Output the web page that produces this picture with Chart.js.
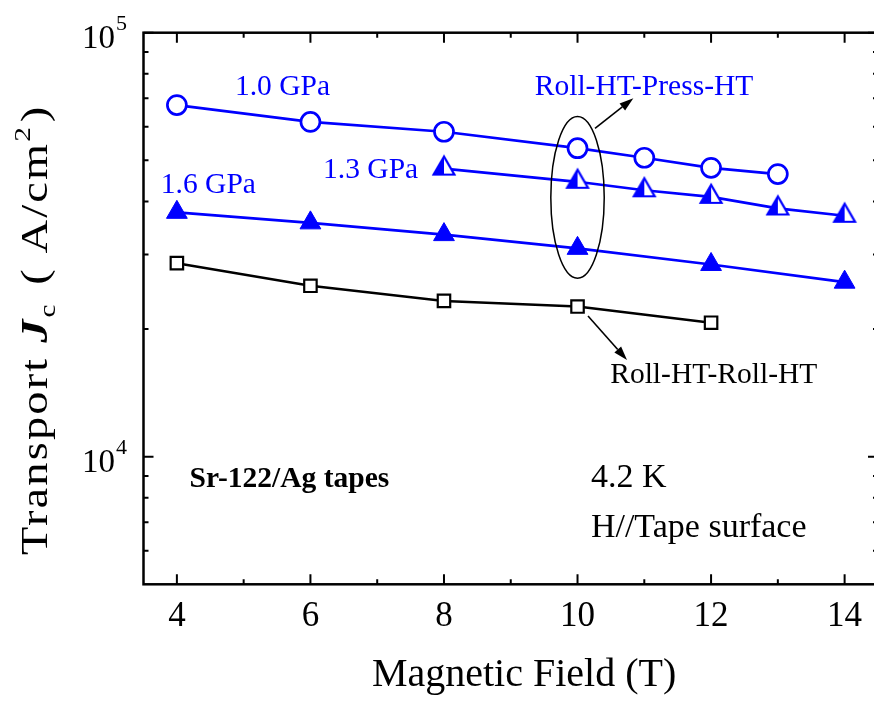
<!DOCTYPE html>
<html lang="en">
<head>
<meta charset="UTF-8">
<title>Transport Jc vs Magnetic Field</title>
<script src="https://cdn.jsdelivr.net/npm/chart.js"></script>
<style>
  html, body { margin: 0; padding: 0; background: #fff; overflow: hidden; }
  .wrap { width: 874px; height: 702px; overflow: hidden; }
  canvas { display: block; }
</style>
</head>
<body>
<!-- canvas is a little wider than the window: the right frame line falls just outside the picture -->
<div class="wrap"><canvas id="jcChart" width="882" height="702"></canvas></div>
<script>
// magnetic field (T) and transport Jc (A/cm2) for each tape
const field10 = [4, 6, 8, 10, 11, 12, 13];
const jc10 = [67500, 61600, 58400, 53400, 50700, 48000, 46400];
const field13 = [8, 10, 11, 12, 13, 14];
const jc13 = [47800, 44500, 42500, 41000, 38500, 37000];
const field16 = [4, 6, 8, 10, 12, 14];
const jc16 = [37700, 35600, 33400, 31000, 28400, 25800];
const fieldRoll = [4, 6, 8, 10, 12];
const jcRoll = [28600, 25300, 23300, 22600, 20700];

const xMajor = [4, 6, 8, 10, 12, 14];
const xMinor = [5, 7, 9, 11, 13];
const yMajor = [10000, 100000];
const yMinor = [6000, 7000, 8000, 9000, 20000, 30000, 40000, 50000, 60000, 70000, 80000, 90000];

const SERIF = '"Liberation Serif", "Times New Roman", serif';
const BLUE = '#0000ff';

function pts(xs, ys) {
    return xs.map((x, i) => ({ x: x, y: ys[i] }));
}

// half filled triangle marker (left half blue)
function halfTriangle() {
    const c = document.createElement('canvas');
    c.width = 32; c.height = 32;
    const g = c.getContext('2d');
    const cx = 16, cy = 16, r = 12, h = r * Math.sqrt(3) / 2;
    g.beginPath();
    g.moveTo(cx, cy - r); g.lineTo(cx - h, cy + r / 2); g.lineTo(cx + h, cy + r / 2);
    g.closePath();
    g.fillStyle = '#fff'; g.fill();
    g.beginPath();
    g.moveTo(cx, cy - r); g.lineTo(cx - h, cy + r / 2); g.lineTo(cx, cy + r / 2);
    g.closePath();
    g.fillStyle = BLUE; g.fill();
    g.beginPath();
    g.moveTo(cx, cy - r); g.lineTo(cx - h, cy + r / 2); g.lineTo(cx + h, cy + r / 2);
    g.closePath();
    g.lineWidth = 2.2; g.strokeStyle = BLUE; g.stroke();
    return c;
}

function arrow(ctx, x1, y1, x2, y2) {
    const a = Math.atan2(y2 - y1, x2 - x1);
    const len = 14, half = 4.5;
    const bx = x2 - len * Math.cos(a), by = y2 - len * Math.sin(a);
    ctx.beginPath();
    ctx.moveTo(x1, y1); ctx.lineTo(bx, by);
    ctx.stroke();
    ctx.beginPath();
    ctx.moveTo(x2, y2);
    ctx.lineTo(bx + half * Math.sin(a), by - half * Math.cos(a));
    ctx.lineTo(bx - half * Math.sin(a), by + half * Math.cos(a));
    ctx.closePath();
    ctx.fill();
}

function runs(ctx, parts) {
    let x = 0;
    parts.forEach(p => {
        ctx.font = p.font;
        ctx.fillText(p.text, x, p.dy || 0);
        x += ctx.measureText(p.text).width + (p.gap || 0);
    });
}

const framePlugin = {
    id: 'frame',
    afterDatasetsDraw(chart) {
        const ctx = chart.ctx;
        const a = chart.chartArea;
        const xs = chart.scales.x, ys = chart.scales.y;
        const px = v => xs.getPixelForValue(v);
        const py = v => ys.getPixelForValue(v);
        ctx.save();
        ctx.strokeStyle = '#000';
        ctx.fillStyle = '#000';

        // frame + inward ticks on all four sides
        ctx.lineWidth = 2.5;
        ctx.strokeRect(a.left, a.top, a.right - a.left, a.bottom - a.top);
        ctx.lineWidth = 2;
        ctx.beginPath();
        xMajor.forEach(v => {
            ctx.moveTo(px(v), a.bottom); ctx.lineTo(px(v), a.bottom - 10);
            ctx.moveTo(px(v), a.top); ctx.lineTo(px(v), a.top + 10);
        });
        xMinor.forEach(v => {
            ctx.moveTo(px(v), a.bottom); ctx.lineTo(px(v), a.bottom - 5);
            ctx.moveTo(px(v), a.top); ctx.lineTo(px(v), a.top + 5);
        });
        yMajor.forEach(v => {
            ctx.moveTo(a.left, py(v)); ctx.lineTo(a.left + 10, py(v));
            ctx.moveTo(a.right, py(v)); ctx.lineTo(a.right - 10, py(v));
        });
        yMinor.forEach(v => {
            ctx.moveTo(a.left, py(v)); ctx.lineTo(a.left + 5, py(v));
            ctx.moveTo(a.right, py(v)); ctx.lineTo(a.right - 5, py(v));
        });
        ctx.stroke();

        // tick labels
        ctx.textBaseline = 'alphabetic';
        ctx.textAlign = 'center';
        ctx.font = '35px ' + SERIF;
        xMajor.forEach(v => ctx.fillText(String(v), px(v), a.bottom + 42));
        ctx.textAlign = 'left';
        yMajor.forEach(v => {
            const y = py(v);
            ctx.font = '33px ' + SERIF;
            ctx.fillText('10', a.left - 61.5, y + 15);
            const w = ctx.measureText('10').width;
            ctx.font = '22px ' + SERIF;
            ctx.fillText(String(Math.round(Math.log10(v))), a.left - 61.5 + w + 1, y - 3);
        });

        // axis titles
        ctx.textAlign = 'center';
        ctx.font = '40px ' + SERIF;
        ctx.fillText('Magnetic Field (T)', px(9.2), a.bottom + 102);
        ctx.save();
        ctx.translate(47, 555);
        ctx.rotate(-Math.PI / 2);
        ctx.scale(1.22, 1);
        ctx.letterSpacing = '1.8px';
        ctx.textAlign = 'left';
        runs(ctx, [
            { text: 'Transport ', font: '38px ' + SERIF },
            { text: 'J', font: 'italic bold 38px ' + SERIF },
            { text: 'c', font: '24px ' + SERIF, dy: 8, gap: 3 },
            { text: ' ( A/cm', font: '38px ' + SERIF },
            { text: '2', font: '24px ' + SERIF, dy: -17, gap: 2 },
            { text: ')', font: '38px ' + SERIF }
        ]);
        ctx.restore();

        // annotations
        ctx.textAlign = 'left';
        ctx.fillStyle = BLUE;
        ctx.font = '29.5px ' + SERIF;
        ctx.fillText('1.0 GPa', px(4.87), py(71300));
        ctx.fillText('1.3 GPa', px(6.19), py(45400));
        ctx.fillText('1.6 GPa', px(3.76), py(41900));
        ctx.fillText('Roll-HT-Press-HT', px(9.36), py(71300));
        ctx.fillStyle = '#000';
        ctx.fillText('Roll-HT-Roll-HT', px(10.49), py(14900));
        ctx.font = 'bold 29.5px ' + SERIF;
        ctx.fillText('Sr-122/Ag tapes', px(4.19), py(8500));
        ctx.font = '34px ' + SERIF;
        ctx.fillText('4.2 K', px(10.2), py(8470));
        ctx.fillText('H//Tape surface', px(10.2), py(6455));

        // ellipse around the 10 T points
        const eTop = py(63400), eBot = py(26350);
        ctx.lineWidth = 1.5;
        ctx.beginPath();
        ctx.ellipse(px(10), (eTop + eBot) / 2, px(10.4) - px(10), (eBot - eTop) / 2, 0, 0, Math.PI * 2);
        ctx.stroke();

        ctx.lineWidth = 1.6;
        arrow(ctx, px(10.262), py(59500), px(10.836), py(70000));
        arrow(ctx, px(10.157), py(21470), px(10.741), py(16900));
        ctx.restore();
    }
};

new Chart(document.getElementById('jcChart'), {
    type: 'line',
    data: {
        datasets: [
            {
                label: '1.0 GPa',
                data: pts(field10, jc10),
                borderColor: BLUE,
                borderWidth: 2.7,
                pointStyle: 'circle',
                pointRadius: 9.5,
                pointBorderWidth: 2.7,
                pointBorderColor: BLUE,
                pointBackgroundColor: '#fff'
            },
            {
                label: '1.3 GPa',
                data: pts(field13, jc13),
                borderColor: BLUE,
                borderWidth: 2.7,
                pointStyle: halfTriangle(),
                pointRadius: 12
            },
            {
                label: '1.6 GPa',
                data: pts(field16, jc16),
                borderColor: BLUE,
                borderWidth: 2.7,
                pointStyle: 'triangle',
                pointRadius: 12,
                pointBorderWidth: 1,
                pointBorderColor: BLUE,
                pointBackgroundColor: BLUE
            },
            {
                label: 'Roll-HT-Roll-HT',
                data: pts(fieldRoll, jcRoll),
                borderColor: '#000',
                borderWidth: 2.5,
                pointStyle: 'rect',
                pointRadius: 8.8,
                pointBorderWidth: 2.2,
                pointBorderColor: '#000',
                pointBackgroundColor: '#fff'
            }
        ]
    },
    options: {
        responsive: false,
        devicePixelRatio: 1,
        animation: false,
        events: [],
        layout: {
            autoPadding: false,
            padding: { left: 143.5, top: 32.7, right: 4, bottom: 117.7 }
        },
        scales: {
            x: { type: 'linear', min: 3.5, max: 14.5, display: false },
            y: { type: 'logarithmic', min: 5000, max: 100000, display: false }
        },
        plugins: {
            legend: { display: false },
            tooltip: { enabled: false }
        }
    },
    plugins: [framePlugin]
});
</script>
</body>
</html>
